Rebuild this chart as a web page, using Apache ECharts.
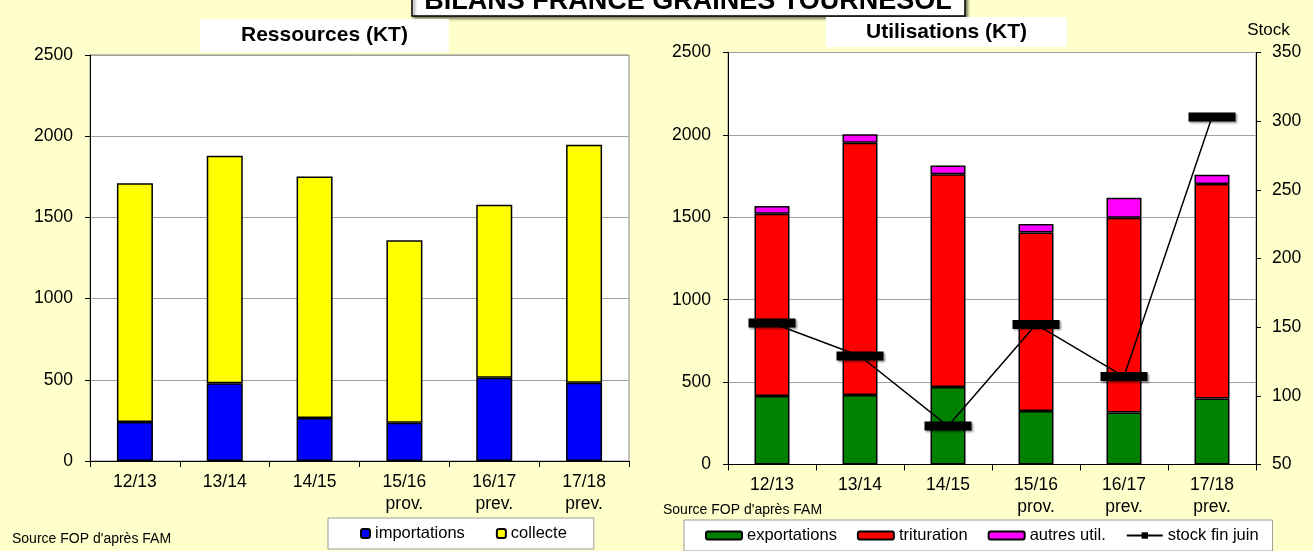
<!DOCTYPE html>
<html>
<head>
<meta charset="utf-8">
<title>Bilans France graines tournesol</title>
<script src="https://cdn.jsdelivr.net/npm/echarts@6/dist/echarts.min.js"></script>
<style>
    html, body { margin: 0; padding: 0; background: #ffffcc; }
    #chart { width: 1313px; height: 551px; }
</style>
</head>
<body>
<div id="chart"></div>
<script>
// campagnes
const categories = ["12/13", "13/14", "14/15", "15/16\nprov.", "16/17\nprev.", "17/18\nprev."]

// ressources (KT)
const importations = [240, 478, 265, 236, 513, 482]
const collecte = [1470, 1402, 1487, 1124, 1065, 1465]

// utilisations (KT)
const exportations = [415, 421, 471, 325, 316, 401]
const trituration = [1106, 1531, 1290, 1083, 1181, 1301]
const autresUtil = [47, 52, 54, 51, 122, 56]
const stockFinJuin = [153, 129, 78, 152, 114, 303]

const font = "Arial, 'Liberation Sans', sans-serif"
const barBorder = { borderColor: "#000", borderWidth: 1.5 }

const chart = echarts.init(document.getElementById("chart"))

function catAxis(gridIndex) {
    return {
        type: "category",
        gridIndex: gridIndex,
        data: categories,
        axisLine: { lineStyle: { color: "#000", width: 1 } },
        axisTick: { show: true, length: 6, lineStyle: { color: "#000" } },
        axisLabel: {
            color: "#000", fontFamily: font, fontSize: 17.5,
            lineHeight: 22, margin: 10,
        },
    }
}

function valAxis(gridIndex, opts) {
    return Object.assign({
        type: "value",
        gridIndex: gridIndex,
        axisLine: { show: true, lineStyle: { color: "#000", width: 1 } },
        axisTick: { show: true, length: 5, lineStyle: { color: "#000" } },
        axisLabel: {
            color: "#000", fontFamily: font, fontSize: 17.5, margin: 17,
            formatter: v => String(v),
        },
        splitLine: { show: true, lineStyle: { color: "#a0a0a0", width: 1 } },
    }, opts)
}

const option = {
    backgroundColor: "#ffffcc",
    animation: false,
    textStyle: { fontFamily: font },
    title: [
        {
            text: "Ressources (KT)",
            left: 200, top: 19,
            padding: [6, 41, 6, 41],
            backgroundColor: "#fff",
            textStyle: { fontFamily: font, fontSize: 21, fontWeight: "bold", color: "#000" },
        },
        {
            text: "Utilisations (KT)",
            left: 826, top: 17,
            padding: [5, 40, 4, 40],
            backgroundColor: "#fff",
            textStyle: { fontFamily: font, fontSize: 21, fontWeight: "bold", color: "#000" },
        },
    ],
    graphic: [
        {
            type: "rect",
            shape: { x: 412, y: -10, width: 553, height: 26 },
            style: {
                fill: "#fff", stroke: "#000", lineWidth: 1.5,
                shadowBlur: 3, shadowColor: "rgba(0,0,0,0.5)", shadowOffsetX: 2, shadowOffsetY: 2,
            },
        },
        {
            type: "text",
            x: 688, y: 2,
            style: {
                text: "BILANS FRANCE GRAINES TOURNESOL",
                font: "bold 27px " + font,
                fill: "#000", textAlign: "center", textVerticalAlign: "middle",
            },
        },
        {
            type: "text",
            x: 12, y: 539,
            style: {
                text: "Source FOP d'après FAM",
                font: "14px " + font,
                fill: "#000", textVerticalAlign: "middle",
            },
        },
        {
            type: "text",
            x: 663, y: 510,
            style: {
                text: "Source FOP d'après FAM",
                font: "14px " + font,
                fill: "#000", textVerticalAlign: "middle",
            },
        },
    ],
    legend: [
        {
            data: ["importations", "collecte"],
            left: 328, top: 518,
            padding: [7, 27, 7, 32],
            itemWidth: 9, itemHeight: 9, itemGap: 31,
            backgroundColor: "#fff",
            borderColor: "#999", borderWidth: 1,
            textStyle: { fontFamily: font, fontSize: 16.5, color: "#000" },
        },
        {
            data: ["exportations", "trituration", "autres util.", "stock fin juin"],
            left: 684, top: 520,
            padding: [7, 14, 7, 21],
            itemWidth: 36, itemHeight: 8, itemGap: 20,
            backgroundColor: "#fff",
            borderColor: "#999", borderWidth: 1,
            textStyle: { fontFamily: font, fontSize: 16.5, color: "#000" },
        },
    ],
    grid: [
        {
            left: 90, top: 55, width: 539, height: 406,
            show: true, backgroundColor: "#fff",
            borderColor: "#888", borderWidth: 1,
        },
        {
            left: 728, top: 52.5, width: 528, height: 412,
            show: true, backgroundColor: "#fff",
            borderColor: "#888", borderWidth: 1,
        },
    ],
    xAxis: [catAxis(0), catAxis(1)],
    yAxis: [
        valAxis(0, { min: 0, max: 2500, interval: 500 }),
        valAxis(1, { min: 0, max: 2500, interval: 500 }),
        valAxis(1, {
            min: 50, max: 350, interval: 50,
            position: "right",
            splitLine: { show: false },
            axisLabel: {
                color: "#000", fontFamily: font, fontSize: 17.5, margin: 16,
                formatter: v => String(v),
            },
            name: "Stock",
            nameLocation: "end",
            nameGap: 14,
            nameTextStyle: { color: "#000", fontFamily: font, fontSize: 17, padding: [0, 0, 0, 25] },
        }),
    ],
    series: [
        {
            name: "importations", type: "bar", stack: "res",
            xAxisIndex: 0, yAxisIndex: 0, barWidth: 36,
            itemStyle: Object.assign({ color: "#0000ff" }, barBorder),
            data: importations,
        },
        {
            name: "collecte", type: "bar", stack: "res",
            xAxisIndex: 0, yAxisIndex: 0, barWidth: 36,
            itemStyle: Object.assign({ color: "#ffff00" }, barBorder),
            data: collecte,
        },
        {
            name: "exportations", type: "bar", stack: "util",
            xAxisIndex: 1, yAxisIndex: 1, barWidth: 35,
            itemStyle: Object.assign({ color: "#008000" }, barBorder),
            data: exportations,
        },
        {
            name: "trituration", type: "bar", stack: "util",
            xAxisIndex: 1, yAxisIndex: 1, barWidth: 35,
            itemStyle: Object.assign({ color: "#ff0000" }, barBorder),
            data: trituration,
        },
        {
            name: "autres util.", type: "bar", stack: "util",
            xAxisIndex: 1, yAxisIndex: 1, barWidth: 35,
            itemStyle: Object.assign({ color: "#ff00ff" }, barBorder),
            data: autresUtil,
        },
        {
            name: "stock fin juin", type: "line",
            xAxisIndex: 1, yAxisIndex: 2,
            symbol: "rect", symbolSize: [47, 9],
            z: 5,
            lineStyle: { color: "#000", width: 1.5 },
            itemStyle: {
                color: "#000",
                shadowBlur: 2, shadowColor: "rgba(0,0,0,0.45)", shadowOffsetX: 1.5, shadowOffsetY: 1.5,
            },
            data: stockFinJuin,
        },
    ],
}

chart.setOption(option)
</script>
</body>
</html>
